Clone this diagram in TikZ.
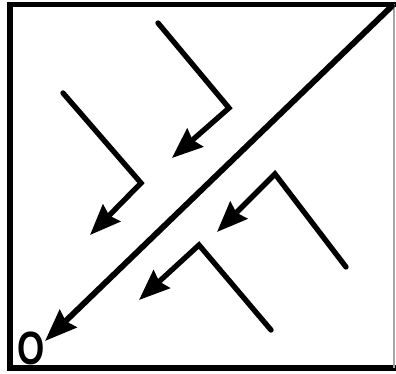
\documentclass[tikz,border=0pt]{standalone}
\usepackage{fontspec}
\setmainfont{Liberation Sans}
\usetikzlibrary{arrows.meta}
\begin{document}
\begin{tikzpicture}[x=0.75pt,y=-0.75pt,
  framestyle/.style={line width=3.9pt, line cap=rect, line join=miter},
  bent/.style={line width=4pt, line cap=round, line join=miter,
    -{Stealth[length=23pt,width=18pt,inset=2.5pt]}},
  mainarrow/.style={line width=4.4pt, line cap=round,
    -{Stealth[length=24pt,width=18pt,inset=2.5pt]}},
  lbl/.style={inner sep=0pt, font=\fontsize{35}{40}\selectfont\bfseries,
    transform shape, xscale=0.75}]
\useasboundingbox (0,0) rectangle (396,374);
% frame
\coordinate (fbl) at (10,368);
\coordinate (ftl) at (10,4.5);
\coordinate (ftr) at (394,4.5);
\coordinate (fbr) at (394,368);
\draw[framestyle] (fbr) -- (fbl) -- (ftl) -- (ftr);
\draw[line width=1.5pt, gray!70] (ftr) -- (fbr);
% main diagonal
\coordinate (ds) at (392,6);
\coordinate (dt) at (45,341);
\draw[mainarrow] (ds) -- (dt);
% label O
\node[lbl] (o) at (31,348) {O};
% bent arrow 1
\coordinate (a1s) at (158,23);
\coordinate (a1c) at (229,108);
\coordinate (a1t) at (172,158);
\draw[bent] (a1s) -- (a1c) -- (a1t);
% bent arrow 2
\coordinate (a2s) at (63,93);
\coordinate (a2c) at (141,183);
\coordinate (a2t) at (90,235);
\draw[bent] (a2s) -- (a2c) -- (a2t);
% bent arrow 3
\coordinate (a3s) at (346,267);
\coordinate (a3c) at (275,174);
\coordinate (a3t) at (217,232);
\draw[bent] (a3s) -- (a3c) -- (a3t);
% bent arrow 4
\coordinate (a4s) at (271,330);
\coordinate (a4c) at (199,245);
\coordinate (a4t) at (139,300);
\draw[bent] (a4s) -- (a4c) -- (a4t);
\end{tikzpicture}
\end{document}
